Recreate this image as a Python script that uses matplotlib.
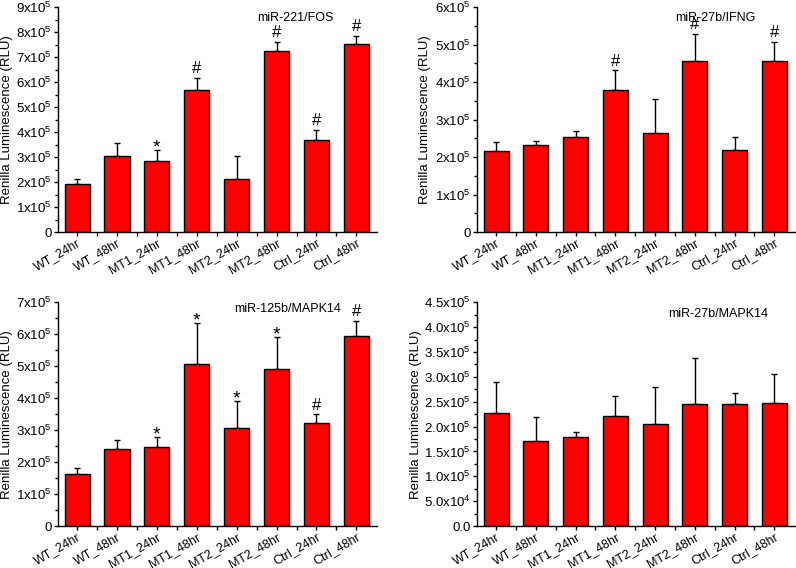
import numpy as np
import matplotlib
matplotlib.use('Agg')
import matplotlib.pyplot as plt
import matplotlib.transforms as mtransforms
from matplotlib.ticker import FixedLocator, MultipleLocator, FuncFormatter

plt.rcParams['font.family'] = ['Liberation Sans', 'DejaVu Sans']
plt.rcParams['mathtext.fontset'] = 'custom'
plt.rcParams['mathtext.rm'] = 'Liberation Sans'
plt.rcParams['mathtext.default'] = 'regular'

groups = ['WT_24hr', 'WT_48hr', 'MT1_24hr', 'MT1_48hr',
          'MT2_24hr', 'MT2_48hr', 'Ctrl_24hr', 'Ctrl_48hr']

# miR-221/FOS
fos_mean = [1.93e5, 3.05e5, 2.85e5, 5.68e5, 2.14e5, 7.25e5, 3.70e5, 7.51e5]
fos_err = [0.19e5, 0.53e5, 0.45e5, 0.48e5, 0.91e5, 0.36e5, 0.38e5, 0.34e5]
fos_sig = ['', '', '*', '#', '', '#', '#', '#']

# miR-27b/IFNG
ifng_mean = [2.16e5, 2.31e5, 2.54e5, 3.79e5, 2.65e5, 4.55e5, 2.19e5, 4.55e5]
ifng_err = [0.23e5, 0.11e5, 0.16e5, 0.52e5, 0.90e5, 0.74e5, 0.34e5, 0.52e5]
ifng_sig = ['', '', '', '#', '', '#', '', '#']

# miR-125b/MAPK14
m125_mean = [1.64e5, 2.40e5, 2.48e5, 5.06e5, 3.08e5, 4.91e5, 3.21e5, 5.94e5]
m125_err = [0.17e5, 0.30e5, 0.29e5, 1.29e5, 0.83e5, 0.99e5, 0.28e5, 0.48e5]
m125_sig = ['', '', '*', '*', '*', '*', '#', '#']

# miR-27b/MAPK14
m27_mean = [2.27e5, 1.70e5, 1.80e5, 2.22e5, 2.05e5, 2.46e5, 2.45e5, 2.48e5]
m27_err = [0.63e5, 0.50e5, 0.09e5, 0.39e5, 0.74e5, 0.92e5, 0.23e5, 0.58e5]
m27_sig = ['', '', '', '', '', '', '', '']


def sci_fmt(v, pos):
    if v <= 0:
        return '0'
    e = int(np.floor(np.log10(v) + 1e-9))
    m = v / 10 ** e
    return '%dx10$^{%d}$' % (round(m), e)


def sci_fmt1(v, pos):
    if v <= 0:
        return '0.0'
    e = int(np.floor(np.log10(v) + 1e-9))
    m = v / 10 ** e
    return '%.1fx10$^{%d}$' % (m, e)


def panel(ax, mean, err, sig, title, ymax, step, fmt, tpos, ylx):
    x = np.arange(len(groups))
    ax.bar(x, mean, width=0.63, color='#ff0000', edgecolor='black', linewidth=1.0, zorder=2)
    ax.errorbar(x, mean, yerr=[np.zeros(len(err)), err], fmt='none', ecolor='black',
                elinewidth=1.0, capsize=2.5, capthick=1.0, zorder=1)
    for xi, m, e, s in zip(x, mean, err, sig):
        if s == '*':
            ax.annotate(s, (xi, m + e), xytext=(0, -1.8), textcoords='offset points',
                        ha='center', va='baseline', fontsize=14)
        elif s:
            ax.annotate(s, (xi, m + e), xytext=(0, 3.5), textcoords='offset points',
                        ha='center', va='baseline', fontsize=12)
    ax.set_xlim(-0.48, 7.52)
    ax.set_ylim(0, ymax)
    ax.yaxis.set_major_locator(MultipleLocator(step))
    ax.yaxis.set_minor_locator(MultipleLocator(step / 2))
    ax.yaxis.set_major_formatter(FuncFormatter(fmt))
    ax.xaxis.set_major_locator(FixedLocator(x))
    ax.xaxis.set_minor_locator(FixedLocator(x[:-1] + 0.5))
    ax.set_xticklabels(groups, rotation=30, ha='right', va='top', rotation_mode='anchor')
    shift = mtransforms.ScaledTranslation(8 / 72, 0, ax.figure.dpi_scale_trans)
    for lab in ax.get_xticklabels():
        lab.set_transform(lab.get_transform() + shift)
    ax.tick_params(axis='both', which='major', direction='out', length=3, width=1,
                   labelsize=9.5, pad=1.5)
    ax.tick_params(axis='x', which='major', pad=0.5, labelsize=9)
    ax.tick_params(axis='both', which='minor', direction='out', length=2, width=1)
    ax.tick_params(axis='x', which='minor', length=3)
    for sp in ['top', 'right']:
        ax.spines[sp].set_visible(False)
    for sp in ['left', 'bottom']:
        ax.spines[sp].set_linewidth(1.0)
    ax.set_ylabel('Renilla Luminescence (RLU)', fontsize=9.5)
    ax.yaxis.set_label_coords(ylx, 0.5)
    ax.text(tpos[0], tpos[1], title, transform=ax.transAxes, ha='center', va='center',
            fontsize=9)


fig = plt.figure(figsize=(7.96, 5.68), dpi=100)
ax1 = fig.add_axes([0.0729, 0.5915, 0.4008, 0.396])
ax2 = fig.add_axes([0.5992, 0.5915, 0.3995, 0.396])
ax3 = fig.add_axes([0.0729, 0.0739, 0.4008, 0.394])
ax4 = fig.add_axes([0.5992, 0.0739, 0.3995, 0.394])

panel(ax1, fos_mean, fos_err, fos_sig, 'miR-221/FOS', 9e5, 1e5, sci_fmt,
      (0.743, 0.95), -0.14)
panel(ax2, ifng_mean, ifng_err, ifng_sig, 'miR-27b/IFNG', 6e5, 1e5, sci_fmt,
      (0.75, 0.95), -0.146)
panel(ax3, m125_mean, m125_err, m125_sig, 'miR-125b/MAPK14', 7e5, 1e5, sci_fmt,
      (0.72, 0.97), -0.14)
panel(ax4, m27_mean, m27_err, m27_sig, 'miR-27b/MAPK14', 4.5e5, 0.5e5, sci_fmt1,
      (0.76, 0.946), -0.174)

fig.savefig('out.png', dpi=100)
